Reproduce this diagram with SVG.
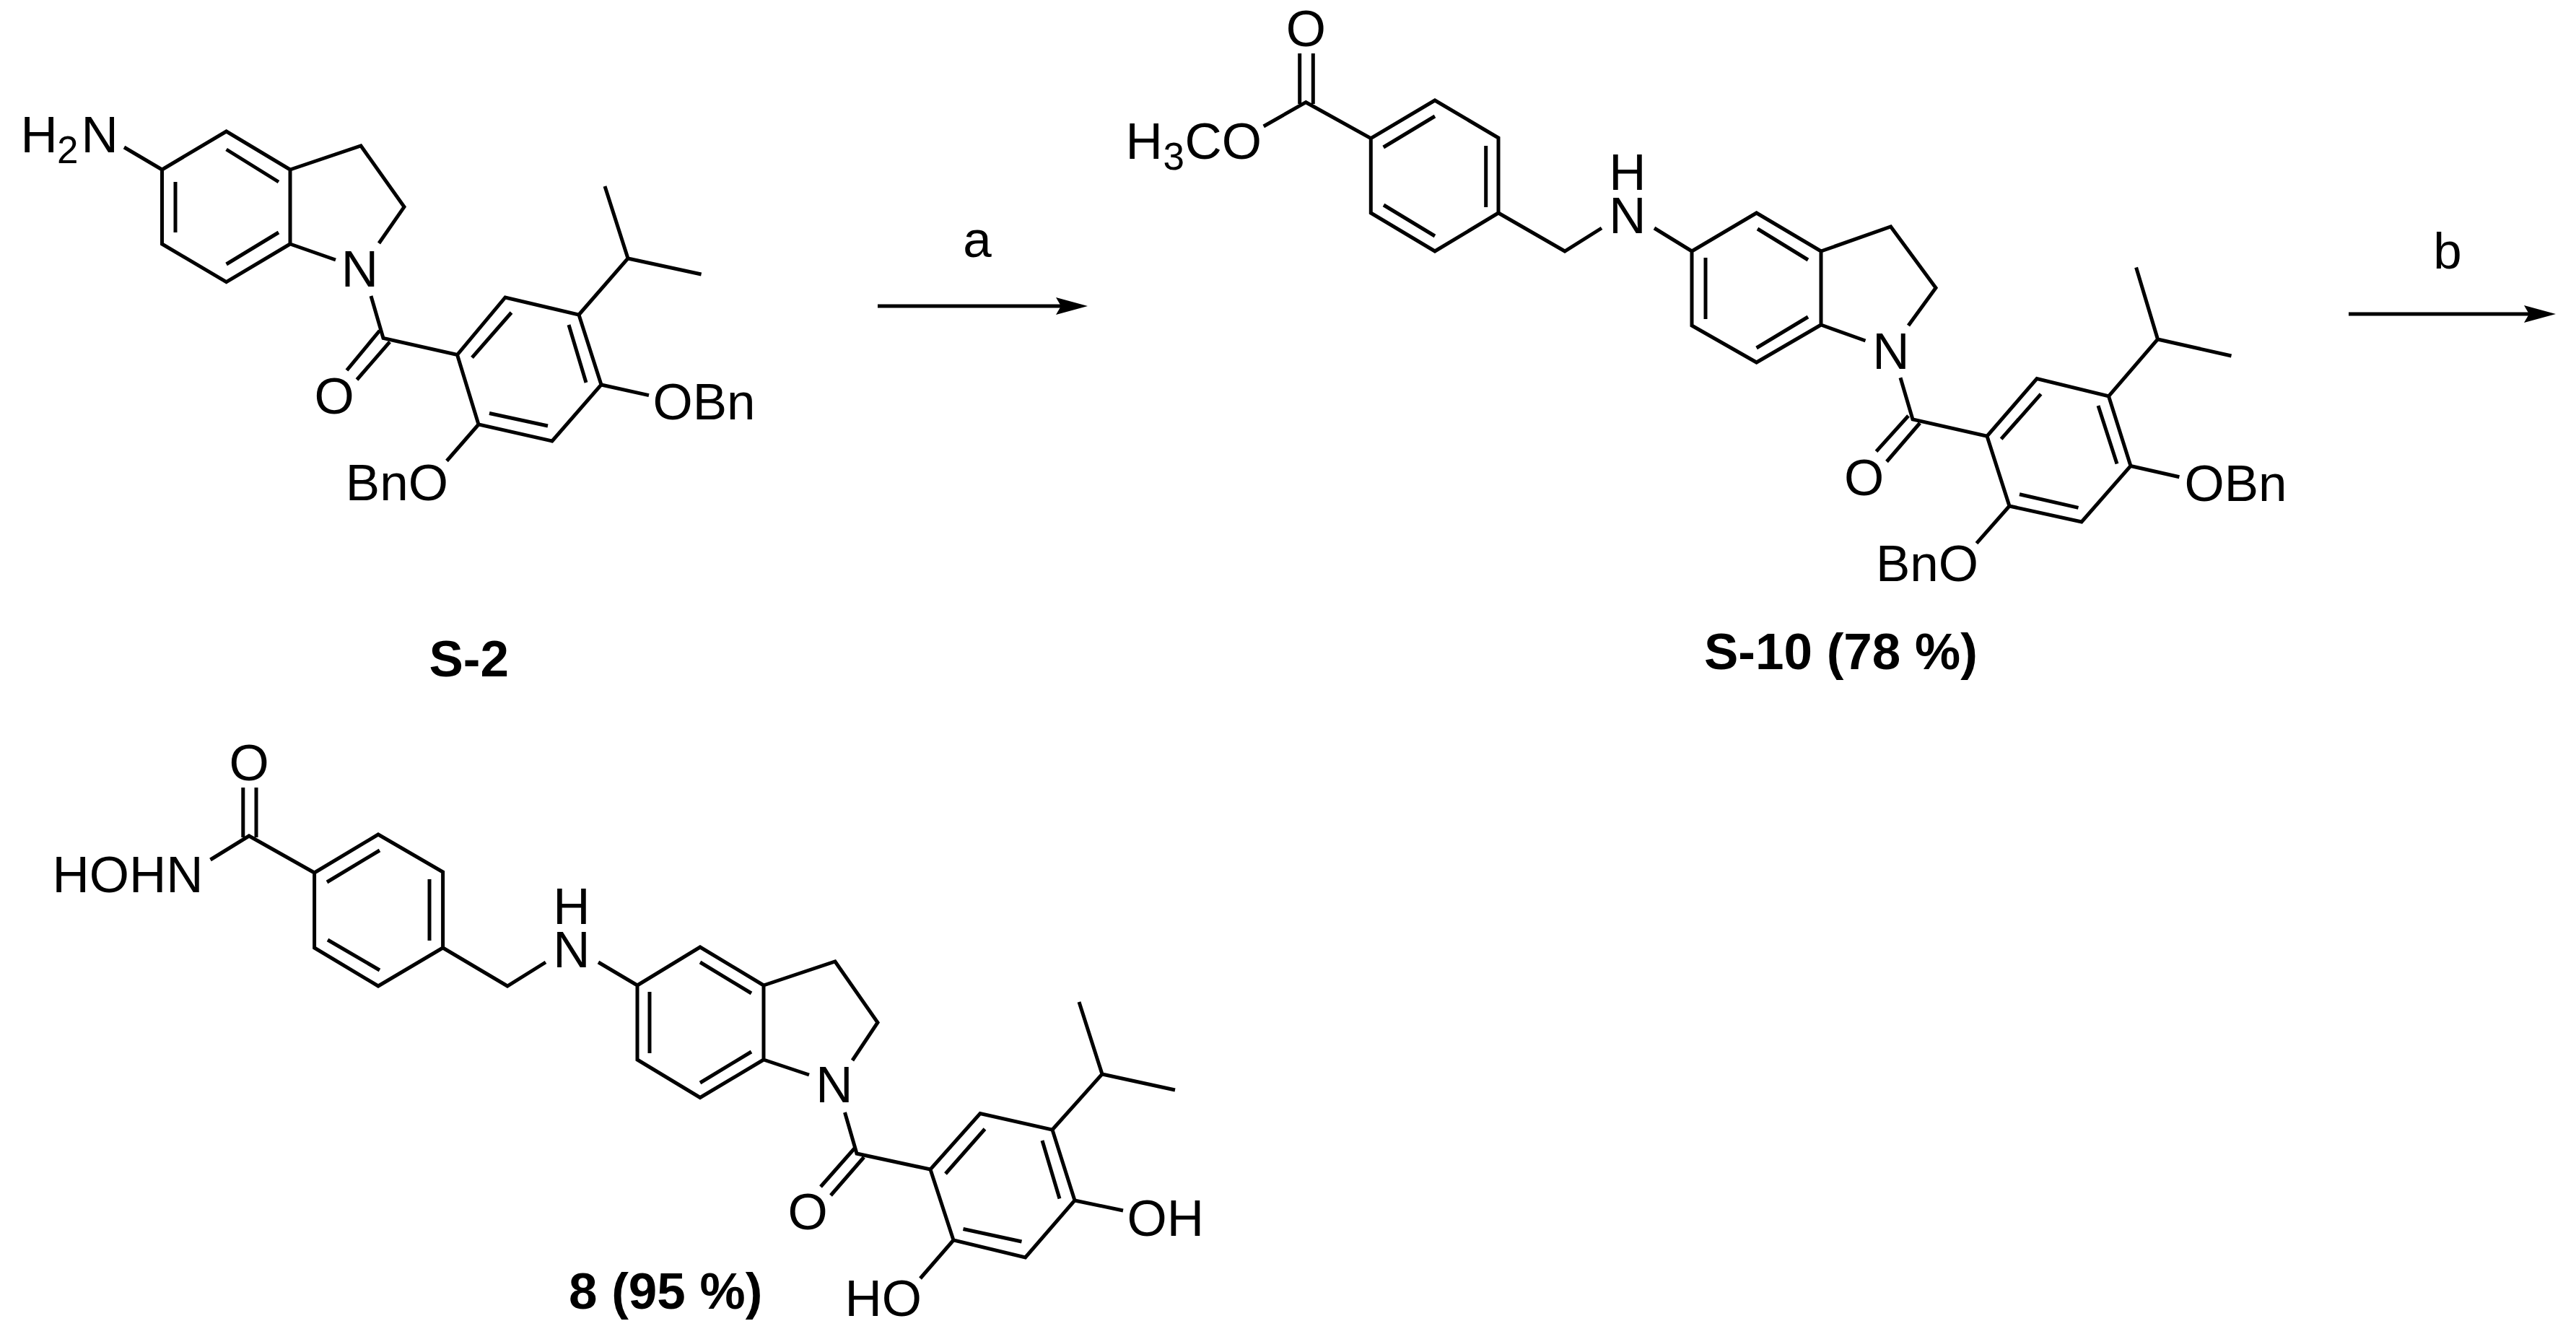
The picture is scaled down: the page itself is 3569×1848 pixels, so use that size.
<svg xmlns="http://www.w3.org/2000/svg" width="3569" height="1848" viewBox="0 0 3569 1848">
<style>
.bond{fill:none;stroke:#000;stroke-width:5;stroke-linejoin:miter;stroke-linecap:butt}
.arrow{fill:none;stroke:#000;stroke-width:5}
text{font-family:"Liberation Sans",Arial,sans-serif;fill:#000}
.t{font-size:71px}
.m{font-size:71px;text-anchor:middle}
.s{font-size:53px}
.b{font-size:71px;font-weight:700}
</style>
<defs>
<marker id="head" markerUnits="userSpaceOnUse" markerWidth="44" markerHeight="24" viewBox="0 0 44 24" refX="7" refY="12" orient="auto">
<path d="M0 0L44 12L0 24L7 12Z" fill="#000"/>
</marker>
</defs>
<rect width="3569" height="1848" fill="#fff"/>
<g id="connectors">
<path class="arrow" d="M1216 424H1470" marker-end="url(#head)"/>
<path class="arrow" d="M3254 435H3504" marker-end="url(#head)"/>
</g>
<text class="m" x="1354" y="356">a</text>
<text class="m" x="3391" y="372">b</text>
<g id="S-2">
<path class="bond" d="M172 204L224.5 235L313.6 182L402 235V338L313.6 390.6L224.5 338V235M402 235L500 202L560 286.6L525 337M402 338L465 360"/>
<path class="bond" d="M313.6 207L386 252M243 252V322M313.6 366L386 322"/>
<path class="bond" d="M514 410L531 468.5L633.5 491.5L700 412L802 436L833 533L765 611L663 588L633.5 491.5M654 495.4L708.5 433M788 450L812 530M678 572.5L759 590"/>
<path class="bond" d="M526 458L480.5 513M540 473.6L494.5 526"/>
<path class="bond" d="M802 436L870 358L838 258M870 358L971.6 380M833 533L899 547.6M663 588L619 638.5"/>
<text class="t" x="28.4" y="211">H</text><text class="s" x="79" y="226">2</text><text class="t" x="112.6" y="211">N</text>
<text class="m" x="498.5" y="397">N</text>
<text class="m" x="463" y="573">O</text>
<text class="t" x="904.5" y="581">OBn</text>
<text class="t" x="478.8" y="693">BnO</text>
<text class="b" x="594.5" y="937">S-2</text>
</g>
<g id="S-10">
<path class="bond" d="M1800.7 74V144M1819.3 74V144"/>
<path class="bond" d="M1750.7 175L1809.3 141.7L1899.3 191.7L1988 139L2076 191V295L1988 348L1899.3 295V191.7"/>
<path class="bond" d="M1916.7 204L1988 161M2058.7 202V287M1917 284L1988 327"/>
<path class="bond" d="M2076 295L2168 348L2219 316M2292 316L2344 348L2433.6 295L2523 348V450L2433.6 502L2344 451V348M2523 348L2619.6 314L2682 398.7L2644 451M2523 450L2584.5 472"/>
<path class="bond" d="M2435 317L2505 360M2363 357V442M2433.6 482L2505 439"/>
<path class="bond" d="M2633 523.3L2650 581L2753 604.2L2822 524.6L2921.5 548.8L2952 645.5L2884 723L2784 701L2753 604.2M2772.6 608.2L2827.6 545.8M2907 562L2933 642.5M2798 684.8L2879.5 703.4"/>
<path class="bond" d="M2644 576L2599.5 625.4M2660 586L2614 639.5"/>
<path class="bond" d="M2921.5 548.8L2989.5 470L2959.6 370.5M2989.5 470L3091.5 493M2952 645.5L3019.4 660.7M2784 701L2738.5 752.7"/>
<text class="m" x="1809.3" y="64">O</text>
<text class="t" x="1559.5" y="220">H</text><text class="s" x="1611.5" y="235">3</text><text class="t" x="1641.4" y="220">CO</text>
<text class="m"><tspan x="2255" y="263">H</tspan><tspan x="2255" y="323">N</tspan></text>
<text class="m" x="2620" y="510.5">N</text>
<text class="m" x="2582.5" y="685.5">O</text>
<text class="t" x="3026.5" y="694">OBn</text>
<text class="t" x="2599" y="805">BnO</text>
<text class="b" x="2361" y="927">S-10 (78 %)</text>
</g>
<g id="compound-8">
<path class="bond" d="M336.8 1091V1160M355 1091V1160"/>
<path class="bond" d="M291.5 1191L345 1158L435.6 1209L524 1156L613.6 1208V1313L524 1366L435.6 1313V1209"/>
<path class="bond" d="M453 1222L526 1178M595 1218V1303M454 1302L526 1344"/>
<path class="bond" d="M613.6 1313L703 1366L756 1333M829 1333L883 1365L970 1312L1058 1365V1468L970 1520.5L883 1468V1365M1058 1365L1157 1332L1216 1416.5L1181 1469M1058 1468L1121 1489"/>
<path class="bond" d="M970 1333L1041 1376M900 1374V1459M970 1500L1041 1457"/>
<path class="bond" d="M1170.5 1541L1187 1598L1289 1620L1358 1542.5L1458 1565L1489 1663L1420.6 1742L1321 1718L1289 1620M1310 1626L1364.5 1564M1444 1580L1468 1660.5M1334.5 1702.5L1415.5 1720"/>
<path class="bond" d="M1184.6 1590L1137 1644M1197 1603L1151 1656"/>
<path class="bond" d="M1458 1565L1527 1488L1495 1388M1527 1488L1628 1510M1489 1663L1556 1677M1321 1718L1275 1771"/>
<text class="m" x="345" y="1081">O</text>
<text class="t" x="72.4" y="1236">HOHN</text>
<text class="m"><tspan x="792" y="1280">H</tspan><tspan x="792" y="1340">N</tspan></text>
<text class="m" x="1156" y="1527">N</text>
<text class="m" x="1119" y="1703">O</text>
<text class="t" x="1561.5" y="1712">OH</text>
<text class="t" x="1170.4" y="1823">HO</text>
<text class="b" x="788" y="1813">8 (95 %)</text>
</g>
</svg>
